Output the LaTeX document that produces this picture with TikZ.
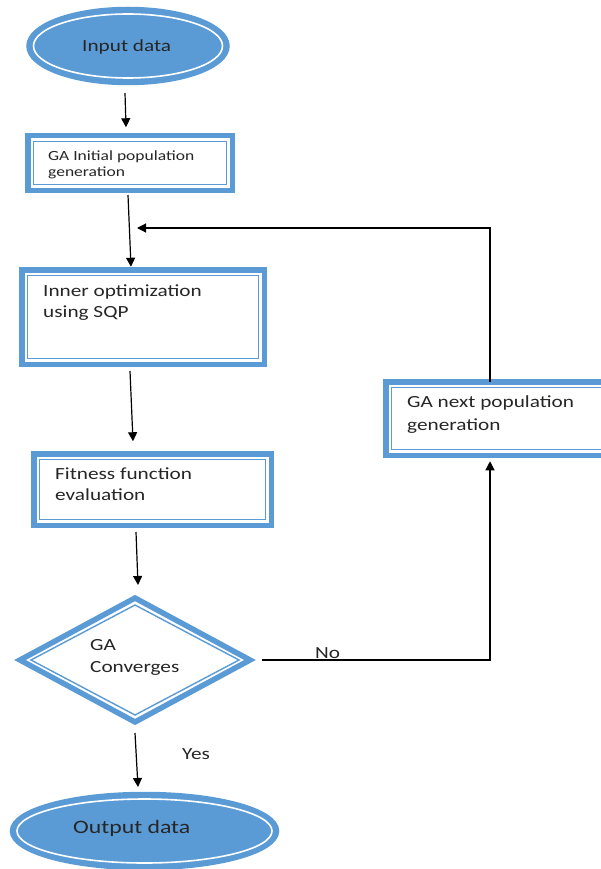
\documentclass[tikz,border=0pt]{standalone}
\usepackage{fontspec}
\setmainfont{Carlito}[FakeStretch=1.25]
\usetikzlibrary{shapes.geometric,arrows.meta}
\definecolor{bl}{RGB}{91,155,213}
\begin{document}
\begin{tikzpicture}[x=1pt,y=-1pt,
  box/.style={draw=bl, line width=5.5pt, rectangle, inner sep=0pt, outer sep=0pt, fill=white},
  oval/.style={draw=bl, line width=5.5pt, ellipse, fill=bl, inner sep=0pt, outer sep=0pt},
  dia/.style={draw=bl, line width=5.5pt, diamond, fill=white, inner sep=0pt, outer sep=0pt},
  inl/.style={draw=bl, line width=1.4pt},
  ring/.style={draw=white, line width=1.6pt},
  txt/.style={anchor=base west, inner sep=0pt, align=left, font=\fontsize{17}{21.5}\selectfont, text=black!85},
  arr/.style={draw=black, line width=1.2pt, -{Triangle[length=9pt,width=9pt]}},
]
\useasboundingbox (0,0) rectangle (601,869);
\clip (0,0) rectangle (601,869);

% shapes
\node[oval, minimum width=198pt, minimum height=73pt] (inp) at (128,46) {};
\draw[ring] (inp.center) ellipse [x radius=94.5pt, y radius=32pt];

\node[box, minimum width=204.5pt, minimum height=54.5pt] (ga1) at (130,163) {};
\draw[inl] ([xshift=5.5pt,yshift=-5.5pt]ga1.north west) rectangle ([xshift=-5.5pt,yshift=5.5pt]ga1.south east);

\node[box, minimum width=242.5pt, minimum height=94.5pt] (sqp) at (143,317) {};
\draw[inl] ([xshift=5.5pt,yshift=-5.5pt]sqp.north west) rectangle ([xshift=-5.5pt,yshift=5.5pt]sqp.south east);

\node[box, minimum width=237.5pt, minimum height=71.5pt] (fit) at (152.5,489.5) {};
\draw[inl] ([xshift=5.5pt,yshift=-5.5pt]fit.north west) rectangle ([xshift=-5.5pt,yshift=5.5pt]fit.south east);

\node[box, minimum width=234.25pt, minimum height=73.5pt] (ga2) at (502.875,418.5) {};
\draw[inl] ([xshift=5.5pt,yshift=-5.5pt]ga2.north west) rectangle ([xshift=-5.5pt,yshift=5.5pt]ga2.south east);

\node[dia, minimum width=230pt, minimum height=124pt] (conv) at (135,660) {};
\draw[inl] ([xshift=-104pt]conv.center) -- ([yshift=55pt]conv.center) -- ([xshift=104pt]conv.center) -- ([yshift=-55pt]conv.center) -- cycle;

\node[oval, minimum width=264pt, minimum height=73pt] (out) at (144.5,831) {};
\draw[ring] (out.center) ellipse [x radius=127.5pt, y radius=32pt];

% texts (base anchor = last line)
\node[txt] (tinp) at (82,52) {Input data};
\node[txt, font=\fontsize{14}{17}\selectfont] (tga1) at (48,177) {GA Initial population\\generation};
\node[txt] (tsqp) at (43,317.5) {Inner optimization\\using SQP};
\node[txt] (tfit) at (55,500.5) {Fitness function\\evaluation};
\node[txt, font=\fontsize{17}{23}\selectfont] (tga2) at (407,430) {GA next population\\generation};
\node[txt] (tconv) at (90,672) {GA\\Converges};
\node[txt] (tno) at (315,658) {No};
\node[txt] (tyes) at (182,759) {Yes};
\node[txt, font=\fontsize{19}{23}\selectfont] (tout) at (73,833) {Output data};

% connectors
\coordinate (fb) at (137,228);
\draw[arr] ([xshift=-3pt,yshift=-10.5pt]inp.south) -- ([xshift=-4pt,yshift=8.5pt]ga1.north);
\draw[arr] ([xshift=-2pt,yshift=-4.75pt]ga1.south) -- ([xshift=-12pt,yshift=3pt]sqp.north);
\draw[arr] ([xshift=-13pt,yshift=-6.75pt]sqp.south) -- ([xshift=-19.5pt,yshift=12.5pt]fit.north);
\draw[arr] ([xshift=-16.5pt,yshift=-6.75pt]fit.south) -- ([xshift=3pt,yshift=13pt]conv.north);
\draw[arr] ([yshift=-11pt]conv.south) -- ([xshift=-6.5pt,yshift=7.5pt]out.north);
\draw[arr] ([xshift=-12.875pt]ga2.north) |- (fb);
\draw[arr] ([xshift=12pt]conv.east) -| ([xshift=-12.875pt,yshift=-6pt]ga2.south);
\end{tikzpicture}
\end{document}
